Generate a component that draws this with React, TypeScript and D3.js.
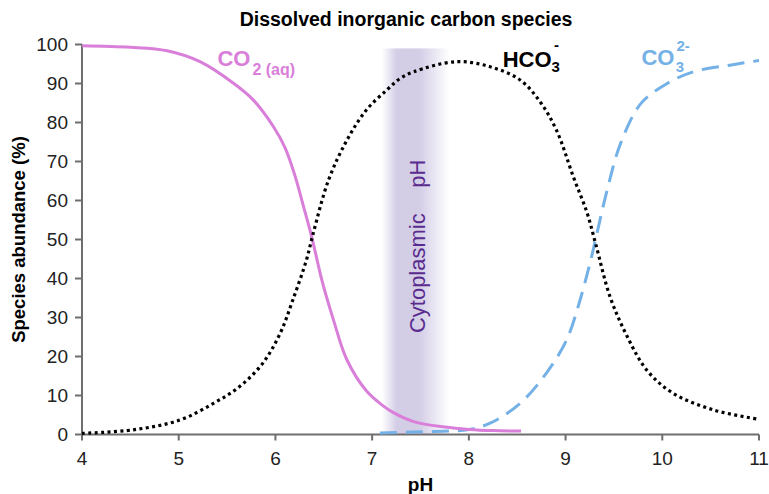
import React from 'react';
import { scaleLinear, line, curveCatmullRom } from 'd3';

const W = 769;
const H = 494;

const xTicks = [4, 5, 6, 7, 8, 9, 10, 11];
const yTicks = [0, 10, 20, 30, 40, 50, 60, 70, 80, 90, 100];

// CO2 (aq)
const co2PH = [4.0, 4.5, 4.88, 5.22, 5.57, 5.77, 5.98, 6.1, 6.2, 6.29, 6.375, 6.48, 6.6, 6.74, 6.94, 7.1, 7.22, 7.43, 7.75, 8.0, 8.25, 8.54];
const co2Val = [99.7, 99.3, 98.4, 95.6, 90.0, 85.8, 78.9, 73.5, 66.5, 58.5, 50.7, 39.6, 29.4, 19.1, 11.2, 7.6, 5.6, 3.3, 1.9, 1.3, 1.0, 0.9];

// HCO3-
const hco3PH = [4.0, 4.53, 5.01, 5.36, 5.63, 5.87, 6.05, 6.18, 6.32, 6.39, 6.55, 6.74, 6.94, 7.15, 7.29, 7.43, 7.87, 8.22, 8.53, 8.74, 8.91, 9.08, 9.22, 9.31, 9.46, 9.63, 9.84, 10.11, 10.53, 11.0];
const hco3Val = [0.3, 1.2, 3.7, 8.0, 12.3, 18.3, 26, 34.5, 44.7, 51.5, 65.3, 75.5, 83.2, 88.3, 91.3, 93.0, 95.6, 94.3, 90.9, 85.2, 77.8, 66.1, 57, 49, 35.3, 25.5, 16.5, 10.6, 6.3, 3.9];

// CO3 2-
const co3PH = [7.08, 7.5, 8.0, 8.22, 8.53, 8.8, 9.01, 9.15, 9.26, 9.31, 9.43, 9.57, 9.78, 10.05, 10.32, 10.7, 11.0];
const co3Val = [0.4, 0.7, 1.3, 2.9, 8.0, 15.7, 24.2, 34.5, 44.7, 50, 62.7, 74.7, 84.9, 90.0, 93.0, 94.7, 95.9];

// cytoplasmic pH band
const bandPH = [7.1, 7.8];
const bandTop = 99;

const x = scaleLinear().domain([4, 11]).range([82, 759]);
const y = scaleLinear().domain([0, 100]).range([434.5, 44.5]);

const toPts = (px: number[], vals: number[]) => px.map((p, i) => [p, vals[i]] as [number, number]);
const lineFn = line<[number, number]>()
  .x(d => x(d[0]))
  .y(d => y(d[1]))
  .curve(curveCatmullRom.alpha(0.5));

const axisColor = '#6e6e6e';
const font = 'Liberation Sans, Arial, sans-serif';

export default function App() {
  return (
    <svg width={W} height={H} style={{ position: 'absolute', left: 0, top: 0, fontFamily: font }}>
      <defs>
        <linearGradient id="band" x1="0" x2="1" y1="0" y2="0">
          <stop offset="0%" stopColor="#d3cde6" stopOpacity={0} />
          <stop offset="22%" stopColor="#d3cde6" stopOpacity={1} />
          <stop offset="55%" stopColor="#d3cde6" stopOpacity={1} />
          <stop offset="100%" stopColor="#d3cde6" stopOpacity={0} />
        </linearGradient>
      </defs>
      <rect x={x(bandPH[0])} y={y(bandTop)} width={x(bandPH[1]) - x(bandPH[0])}
        height={y(0) - y(bandTop)} fill="url(#band)" />

      <g fill="#5a2b8e" fontSize={22} >
        <text transform={`translate(${x(7.45) + 9},${y(26)}) rotate(-90)`} textAnchor="start">Cytoplasmic</text>
        <text transform={`translate(${x(7.45) + 9},${y(70.5)}) rotate(-90)`} textAnchor="end">pH</text>
      </g>

      {/* axes */}
      <line x1={x(4)} x2={x(11)} y1={y(0)} y2={y(0)} stroke={axisColor} strokeWidth={2} />
      <line x1={x(4)} x2={x(4)} y1={y(0)} y2={y(100)} stroke={axisColor} strokeWidth={2} />
      {xTicks.map(t => (
        <g key={'x' + t}>
          <line x1={x(t)} x2={x(t)} y1={y(0)} y2={y(0) + 6} stroke={axisColor} strokeWidth={2} />
          <text x={x(t)} y={465} textAnchor="middle" fontSize={19} fill="#222">{t}</text>
        </g>
      ))}
      {yTicks.map(t => (
        <g key={'y' + t}>
          <line x1={x(4) - 7} x2={x(4)} y1={y(t)} y2={y(t)} stroke={axisColor} strokeWidth={2} />
          <text x={68} y={y(t)} dy="0.35em" textAnchor="end" fontSize={19} fill="#222">{t}</text>
        </g>
      ))}

      {/* curves */}
      <path d={lineFn(toPts(co3PH, co3Val)) || ''} fill="none" stroke="#74b1e6" strokeWidth={3} strokeDasharray="17,9" />
      <path d={lineFn(toPts(co2PH, co2Val)) || ''} fill="none" stroke="#d97ed9" strokeWidth={3} />
      <path d={lineFn(toPts(hco3PH, hco3Val)) || ''} fill="none" stroke="#000" strokeWidth={3.2} strokeDasharray="3,3.4" />

      {/* labels */}
      <text x={x(5.4)} y={66} fontSize={22} fontWeight="bold" fill="#d97ed9">
        CO<tspan fontSize={16} dy={9} dx={2}>2 (aq)</tspan>
      </text>
      <text x={x(8.35)} y={67} fontSize={22} fontWeight="bold" fill="#000">
        HCO<tspan fontSize={15} dy={5}>3</tspan><tspan fontSize={15} dy={-22} dx={-6}>-</tspan>
      </text>
      <text x={x(9.785)} y={65} fontSize={22} fontWeight="bold" fill="#74b1e6">
        CO<tspan fontSize={15} dy={-14} dx={2}>2-</tspan><tspan fontSize={15} dy={21} dx={-14}>3</tspan>
      </text>

      {/* titles */}
      <text x={406} y={26} textAnchor="middle" fontSize={19.5} fontWeight="bold" fill="#000">Dissolved inorganic carbon species</text>
      <text transform={`translate(25,${(y(0) + y(100)) / 2}) rotate(-90)`} textAnchor="middle" fontSize={18.5} fontWeight="bold" fill="#000">Species abundance (%)</text>
      <text x={(x(4) + x(11)) / 2} y={491} textAnchor="middle" fontSize={19} fontWeight="bold" fill="#000">pH</text>
    </svg>
  );
}
